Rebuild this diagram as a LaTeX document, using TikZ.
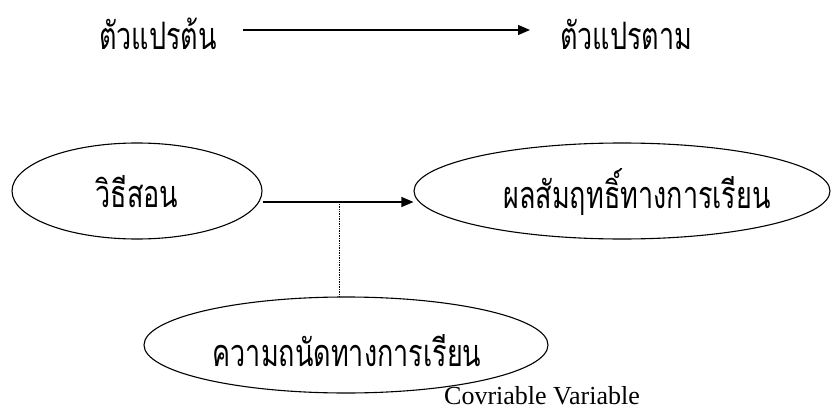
\documentclass[tikz,border=0pt]{standalone}
\usepackage{fontspec}
\setmainfont{Liberation Serif}
\newfontfamily\thaifont[Script=Thai]{Loma}
\usetikzlibrary{shapes.geometric,arrows.meta}

% narrow, tall Thai lettering
\newcommand{\tallthai}[1]{\scalebox{1}[1.4]{#1}}

\tikzset{
  thaitext/.style={font=\thaifont\fontsize{27}{31}\selectfont, inner sep=0pt},
  varbox/.style={ellipse, draw, line width=1.1pt, minimum height=96pt, inner sep=0pt},
  mainarrow/.style={line width=1.2pt, -{Triangle[length=12pt,width=10pt]}},
  linkline/.style={densely dotted, line width=0.7pt}
}

\begin{document}
\begin{tikzpicture}[x=1pt, y=-1pt]
  \useasboundingbox (0,0) rectangle (833,412);

  % legend: independent -> dependent
  \node[thaitext] (indep) at (158,34) {\tallthai{ตัวแปรต้น}};
  \node[thaitext, anchor=west] (dep) at (560,34) {\tallthai{ตัวแปรตาม}};
  \coordinate (legstart) at (243,30);
  \coordinate (legend) at (530,30);
  \draw[mainarrow] (legstart) -- (legend);

  % variables
  \node[varbox, minimum width=250pt] (method) at (137,191) {};
  \node[thaitext] (methodtxt) at (137,192) {\tallthai{วิธีสอน}};

  \node[varbox, minimum width=416pt] (achieve) at (622,191) {};
  \node[thaitext] (achievetxt) at (637,192) {\tallthai{ผลสัมฤทธิ์ทางการเรียน}};

  \node[varbox, minimum width=404pt] (aptitude) at (346,345) {};
  \node[thaitext] (aptitudetxt) at (347,351) {\tallthai{ความถนัดทางการเรียน}};

  % effect arrow and covariate link
  \coordinate (arrowlevel) at (0,202);
  \draw[mainarrow] (method.east |- arrowlevel) -- (achieve.west |- arrowlevel);
  \coordinate (joint) at (339,204);
  \draw[linkline] (joint) -- (joint |- aptitude.north);

  \node[font=\fontsize{26}{30}\selectfont, anchor=base west, inner sep=0pt] (covlabel) at (444,404) {Covriable Variable};
\end{tikzpicture}
\end{document}
